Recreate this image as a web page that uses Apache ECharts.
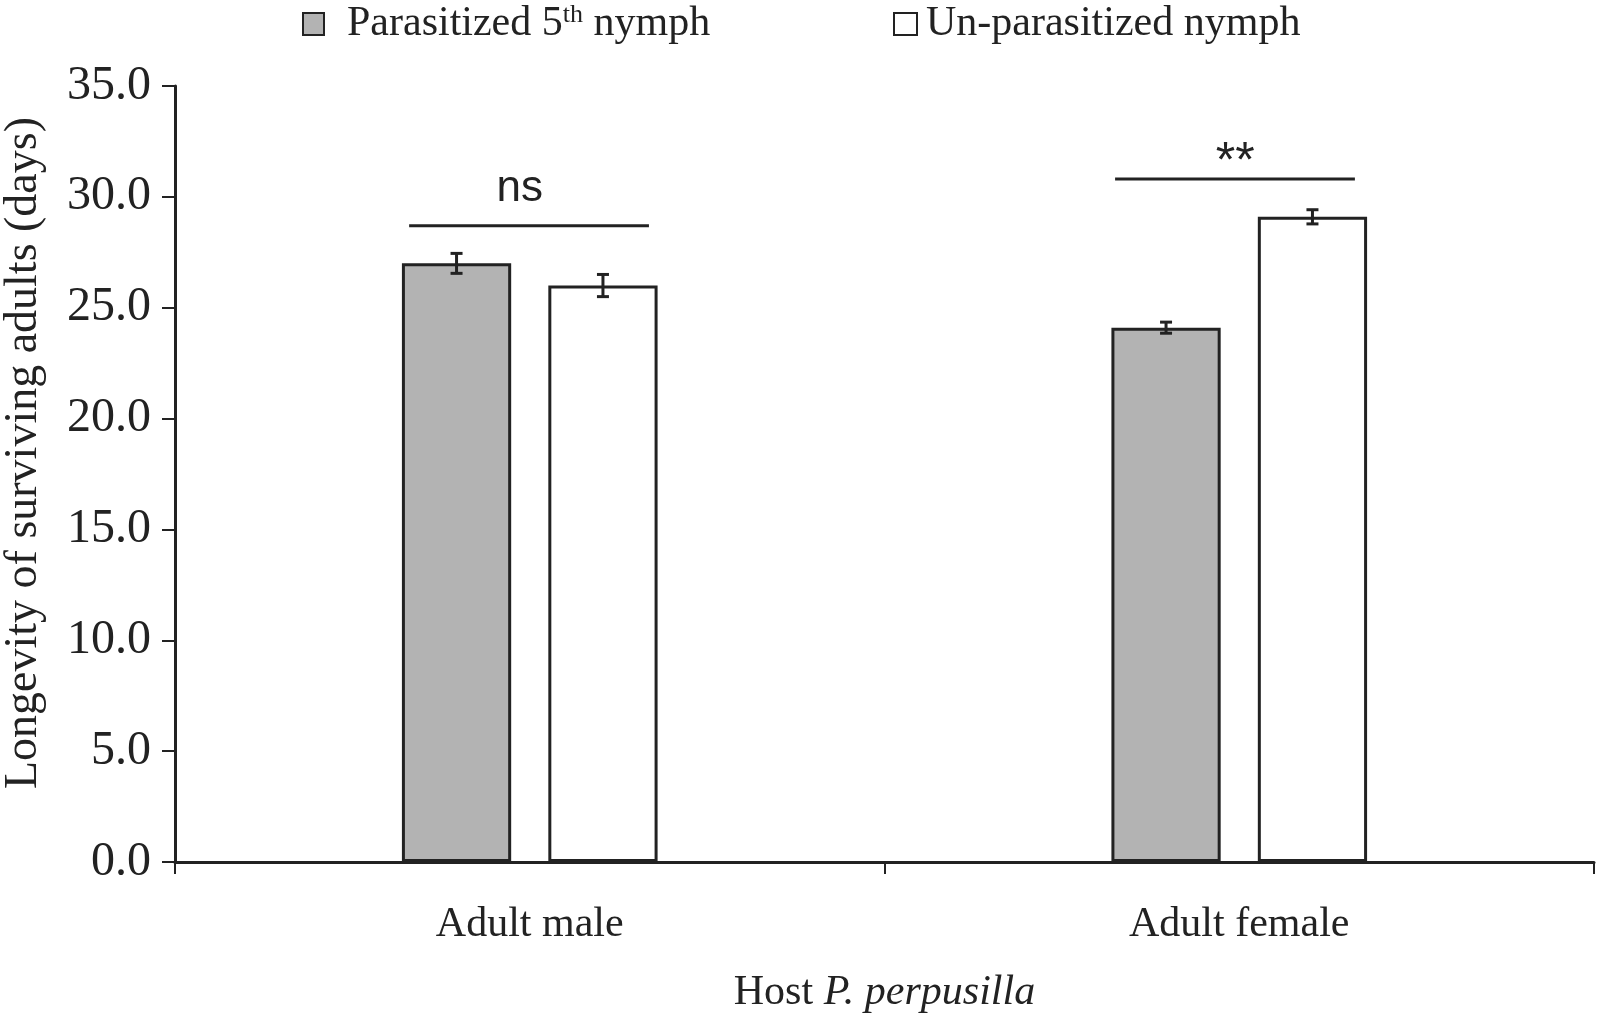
<!DOCTYPE html>
<html>
<head>
<meta charset="utf-8">
<script src="https://cdn.jsdelivr.net/npm/echarts@6/dist/echarts.min.js"></script>
<style>html,body{margin:0;padding:0;background:#fff;}#c{width:1600px;height:1016px;}</style>
</head>
<body>
<div id="c"></div>
<script>
var categories = ['Adult male', 'Adult female'];
var parasitized = [27.0, 24.1];
var parasitizedErr = [0.45, 0.25];
var unparasitized = [26.0, 29.1];
var unparasitizedErr = [0.5, 0.32];
var yTicks = [0, 5, 10, 15, 20, 25, 30, 35];
var sigLabels = ['ns', '**'];
var sigLineLevels = [28.7, 30.8];
var sigTextLevels = [30.35, 31.5];

var INK = '#222';
var GRAY = '#b3b3b3';
var SERIF = '"Liberation Serif","Times New Roman",serif';
var SANS = '"Liberation Sans",Arial,sans-serif';
var BAR_W = 0.154, BAR_GAP = 0.34;

var chart = echarts.init(document.getElementById('c'));

function errData(vals, errs) {
  return vals.map(function (v, i) { return [i, v, errs[i]]; });
}
function errSeries(name, vals, errs, side) {
  return {
    type: 'custom',
    name: name + ' err',
    data: errData(vals, errs),
    encode: { x: 0, y: 1 },
    z: 10,
    silent: true,
    renderItem: function (params, api) {
      var band = api.size([1, 0])[0];
      var bw = band * BAR_W;
      var off = (bw + bw * BAR_GAP) / 2 * side;
      var c = api.coord([api.value(0), api.value(1)]);
      var top = api.coord([api.value(0), api.value(1) + api.value(2)]);
      var bot = api.coord([api.value(0), api.value(1) - api.value(2)]);
      var x = c[0] + off;
      var st = { stroke: INK, lineWidth: 3 };
      return {
        type: 'group',
        children: [
          { type: 'line', shape: { x1: x, y1: top[1], x2: x, y2: bot[1] }, style: st },
          { type: 'line', shape: { x1: x - 6, y1: top[1], x2: x + 6, y2: top[1] }, style: st },
          { type: 'line', shape: { x1: x - 6, y1: bot[1], x2: x + 6, y2: bot[1] }, style: st }
        ]
      };
    }
  };
}

var option = {
  animation: false,
  backgroundColor: '#fff',
  grid: { left: 175, right: 6, top: 86, bottom: 154, containLabel: false, outerBoundsMode: 'none' },
  legend: [
    {
      data: ['Parasitized 5th nymph'],
      left: 297, top: -3,
      icon: 'rect',
      itemWidth: 21, itemHeight: 22,
      formatter: function () { return '{a|Parasitized 5}{s|th}{a| nymph}'; },
      textStyle: {
        padding: [0, 0, 0, 18],
        rich: {
          a: { fontFamily: SERIF, fontSize: 42, color: INK, lineHeight: 44 },
          s: { fontFamily: SERIF, fontSize: 26, color: INK, verticalAlign: 'top', lineHeight: 44, padding: [0, 0, 18, 0] }
        }
      }
    },
    {
      data: ['Un-parasitized nymph'],
      left: 888, top: -3,
      icon: 'rect',
      itemWidth: 23, itemHeight: 22,
      textStyle: { fontFamily: SERIF, fontSize: 42, color: INK, padding: [0, 0, 0, 4], lineHeight: 44 }
    }
  ],
  xAxis: {
    type: 'category',
    data: categories,
    name: '{a|Host }{i|P. perpusilla}',
    nameLocation: 'middle',
    nameGap: 110,
    nameTextStyle: {
      rich: {
        a: { fontFamily: SERIF, fontSize: 42, color: INK },
        i: { fontFamily: SERIF, fontSize: 42, color: INK, fontStyle: 'italic' }
      }
    },
    axisLine: { lineStyle: { color: INK, width: 3 } },
    axisTick: { show: true, length: 12, lineStyle: { color: INK, width: 2 } },
    axisLabel: { fontFamily: SERIF, fontSize: 42, color: INK, margin: 42 }
  },
  yAxis: {
    type: 'value',
    min: 0, max: 35, interval: 5,
    name: 'Longevity of surviving adults (days)',
    nameLocation: 'middle',
    nameGap: 128,
    nameRotate: 90,
    nameTextStyle: { fontFamily: SERIF, fontSize: 46, color: INK, padding: [0, 0, 0, 42] },
    splitLine: { show: false },
    axisLine: { show: true, lineStyle: { color: INK, width: 3 } },
    axisTick: { show: true, length: 13, lineStyle: { color: INK, width: 2 } },
    axisLabel: {
      fontFamily: SERIF, fontSize: 48, color: INK, margin: 24,
      formatter: function (v) { return yTicks.indexOf(v) >= 0 ? v.toFixed(1) : ''; }
    }
  },
  series: [
    {
      type: 'bar', name: 'Parasitized 5th nymph', data: parasitized,
      barWidth: (BAR_W * 100) + '%', barGap: (BAR_GAP * 100) + '%',
      itemStyle: { color: GRAY, borderColor: INK, borderWidth: 3 }
    },
    {
      type: 'bar', name: 'Un-parasitized nymph', data: unparasitized,
      barWidth: (BAR_W * 100) + '%', barGap: (BAR_GAP * 100) + '%',
      itemStyle: { color: '#fff', borderColor: INK, borderWidth: 3 }
    },
    errSeries('Parasitized 5th nymph', parasitized, parasitizedErr, -1),
    errSeries('Un-parasitized nymph', unparasitized, unparasitizedErr, 1)
  ]
};
chart.setOption(option);

// significance annotations, positioned through the chart's own scales
var sigSpan = [[-0.17, 0.168], [-0.175, 0.163]];
var sigTextShift = [-10, -4];
var graphics = [];
categories.forEach(function (cat, i) {
  var c0 = chart.convertToPixel({ gridIndex: 0 }, [i, 0]);
  var c1 = chart.convertToPixel({ gridIndex: 0 }, [i + 1, 0]);
  var band = (i + 1 < categories.length) ? c1[0] - c0[0] : (c0[0] - chart.convertToPixel({ gridIndex: 0 }, [i - 1, 0])[0]);
  var ly = chart.convertToPixel({ gridIndex: 0 }, [i, sigLineLevels[i]])[1];
  var ty = chart.convertToPixel({ gridIndex: 0 }, [i, sigTextLevels[i]])[1];
  graphics.push({
    type: 'line',
    shape: { x1: c0[0] + sigSpan[i][0] * band, y1: ly, x2: c0[0] + sigSpan[i][1] * band, y2: ly },
    style: { stroke: INK, lineWidth: 3 }
  });
  graphics.push({
    type: 'text',
    x: c0[0] + sigTextShift[i], y: ty,
    style: {
      text: sigLabels[i], fill: INK,
      font: (i === 0 ? '44px ' : '50px ') + SANS,
      align: 'center', verticalAlign: 'middle'
    }
  });
});
chart.setOption({ graphic: graphics });
</script>
</body>
</html>
